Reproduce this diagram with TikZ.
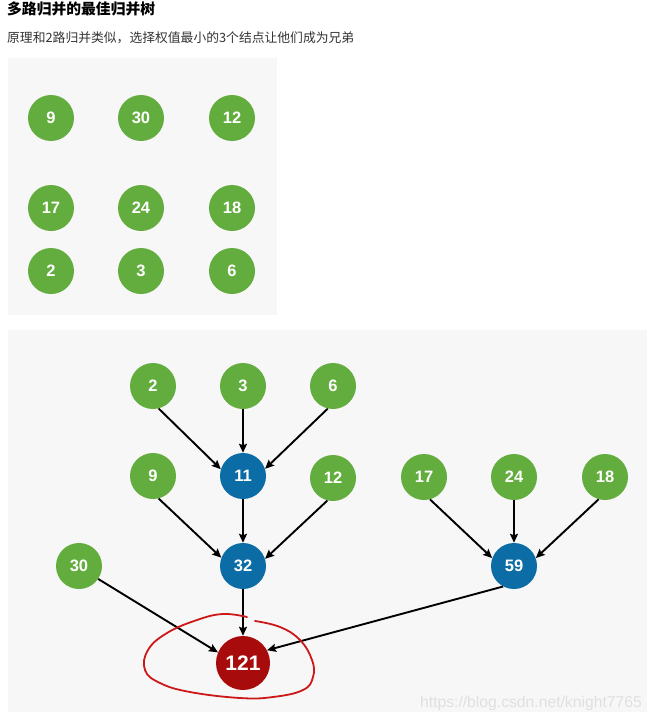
\documentclass[tikz,border=0pt]{standalone}
\usepackage{fontspec}
\setmainfont{Liberation Sans}
\newfontfamily\cjk{Noto Sans CJK SC}
\usepackage{xcolor}
\usepackage{tikz}
\usetikzlibrary{arrows.meta, positioning}

\definecolor{leafgreen}{HTML}{62AD3D}
\definecolor{mergeblue}{HTML}{0B6CA6}
\definecolor{rootred}{HTML}{A80B0B}
\definecolor{panelgray}{HTML}{F7F7F7}
\definecolor{loopred}{HTML}{CC1818}

\begin{document}
\begin{tikzpicture}[x=1pt, y=-1pt,
    every node/.style={font=\bfseries\fontsize{16.5}{16.5}\selectfont, text=white},
    leaf/.style={circle, fill=leafgreen, minimum size=46pt, inner sep=0pt},
    merged/.style={circle, fill=mergeblue, minimum size=46pt, inner sep=0pt},
    result/.style={circle, fill=rootred, minimum size=54pt, inner sep=0pt, font=\bfseries\fontsize{21}{21}\selectfont},
    link/.style={-{Stealth[length=9pt, width=8pt, inset=1.5pt]}, line width=1.9pt, black}]
    \useasboundingbox (0,0) rectangle (652,720);

    % Heading
    \node (title) [anchor=west, inner sep=0pt, text=black, font=\cjk\bfseries\fontsize{14.8}{14.8}\selectfont] at (7,9) {多路归并的最佳归并树};
    \node (intro) [anchor=west, inner sep=0pt, text=black!80, font=\cjk\fontsize{12.8}{12.8}\selectfont] at (7,38) {原理和2路归并类似，选择权值最小的3个结点让他们成为兄弟};

    % Panels
    \fill[panelgray] (8,58) rectangle (277,315);
    \fill[panelgray] (8,330) rectangle (647,712);

    % Initial Weights
    \node (t1) [leaf] at (51,118) {9};
    \node (t2) [leaf] at (141,118) {30};
    \node (t3) [leaf] at (232,118) {12};
    \node (t4) [leaf] at (51,208) {17};
    \node (t5) [leaf] at (141,208) {24};
    \node (t6) [leaf] at (232,208) {18};
    \node (t7) [leaf] at (51,271) {2};
    \node (t8) [leaf] at (141,271) {3};
    \node (t9) [leaf] at (232,271) {6};

    % Merge Tree
    \node (n2) [leaf] at (153,386) {2};
    \node (n3) [leaf] at (243,386) {3};
    \node (n6) [leaf] at (333,386) {6};
    \node (n9) [leaf] at (153,476) {9};
    \node (n11) [merged] at (243,476) {11};
    \node (n12) [leaf] at (333,478) {12};
    \node (n17) [leaf] at (424,477) {17};
    \node (n24) [leaf] at (514,477) {24};
    \node (n18) [leaf] at (605,477) {18};
    \node (n30) [leaf] at (79,566) {30};
    \node (n32) [merged] at (243,566) {32};
    \node (n59) [merged] at (514,566) {59};
    \node (n121) [result] at (243,663) {121};

    % Links
    \draw[link] (n2.-76) -- (n11.163);
    \draw[link] (n3.south) -- (n11.north);
    \draw[link] (n6.-103) -- (n11.18);
    \draw[link] (n9.-76) -- (n32.159);
    \draw[link] (n11.south) -- (n32.north);
    \draw[link] (n12.-104) -- (n32.18);
    \draw[link] (n17.-75) -- (n59.160);
    \draw[link] (n24.south) -- (n59.north);
    \draw[link] (n18.-106) -- (n59.20);
    \draw[link] (n30.-34) -- (n121.157);
    \draw[link] (n32.south) -- (n121.north);
    \draw[link] (n59.-118) -- (n121.28);

    % Hand-drawn mark round the root
    \draw[loopred, line width=1.8pt, line cap=round] plot[smooth, tension=0.7] coordinates {
        (255,621) (280,627) (300,640) (312,660) (313,677) (303,690) (273,697) (240,698)
        (190,692) (160,683) (145,670) (148,650) (167,633) (197,620) (223,614) (247,617)};

    % Watermark
    \node (mark) [anchor=east, inner sep=0pt, text=black!12, font=\fontsize{15.7}{15.7}\selectfont] at (642,703) {https://blog.csdn.net/knight7765};
\end{tikzpicture}
\end{document}
